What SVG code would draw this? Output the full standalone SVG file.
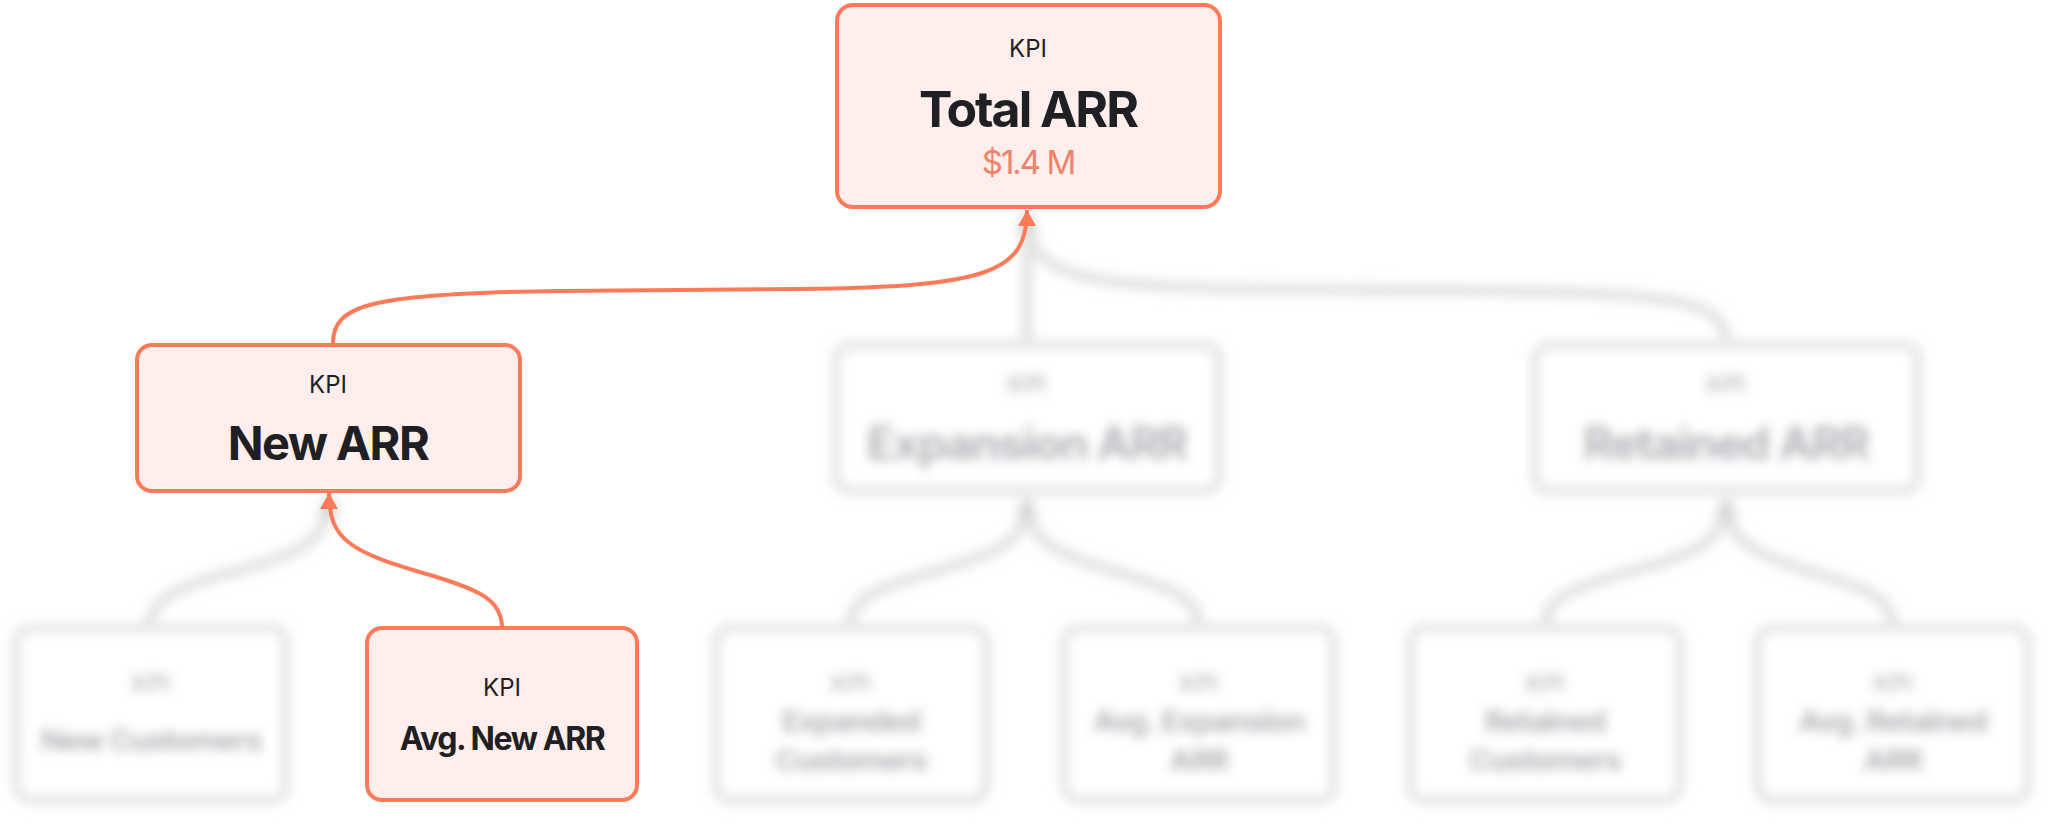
<svg xmlns="http://www.w3.org/2000/svg" width="2048" height="824" viewBox="0 0 2048 824">
<style>
  .box { fill: #FFEEEB; stroke: #FF7A59; stroke-width: 4; }
  .gbox { fill: #FFFFFF; stroke: #E0E0E0; stroke-width: 8; }
  .kpi { font-family: Inter, "Liberation Sans", sans-serif; font-size: 24px; fill: #1F2024; text-anchor: middle; }
  .gkpi { font-family: Inter, "Liberation Sans", sans-serif; font-size: 24px; font-weight: 600; fill: #B4B6BA; text-anchor: middle; }
  .t1 { font-family: Inter, "Liberation Sans", sans-serif; font-weight: 700; fill: #1F2024; text-anchor: middle; }
  .gt { font-family: Inter, "Liberation Sans", sans-serif; font-weight: 700; fill: #ABAEB2; text-anchor: middle; }
  .val { font-family: Inter, "Liberation Sans", sans-serif; font-size: 33px; fill: #F0826A; text-anchor: middle; letter-spacing: -2px; }
  .oc { fill: none; stroke: #FF7A59; stroke-width: 4; }
  .gc { fill: none; stroke: #E2E2E2; stroke-width: 11; }
</style>
<defs>
  <marker id="arrowO" viewBox="0 0 16 18" refX="16" refY="9" markerWidth="16" markerHeight="18" markerUnits="userSpaceOnUse" orient="auto">
    <path d="M0,0 L16,9 L0,18 z" fill="#FF7A59"/>
  </marker>
  <marker id="arrowG" viewBox="0 0 16 18" refX="16" refY="9" markerWidth="22" markerHeight="24" markerUnits="userSpaceOnUse" orient="auto">
    <path d="M0,0 L16,9 L0,18 z" fill="#D4D4D4"/>
  </marker>
  <filter id="blur" x="-20%" y="-20%" width="140%" height="140%">
    <feGaussianBlur stdDeviation="5.5"/>
  </filter>
</defs>
<rect width="2048" height="824" fill="#FFFFFF"/>

<g id="connectors">
  <g filter="url(#blur)">
    <path class="gc" d="M1027,345 L1027,212" marker-end="url(#arrowG)"/>
    <path class="gc" d="M1726,343 C1726,305 1689,293 1500,291 L1260,289 C1064,287 1027,272 1027,212" marker-end="url(#arrowG)"/>
    <path class="gc" d="M150,628 C150,600 172,590 222,575 C308,552 329,540 329,495" marker-end="url(#arrowG)"/>
    <path class="gc" d="M850,628 C850,600 872,590 922,575 C1006,552 1027,540 1027,497" marker-end="url(#arrowG)"/>
    <path class="gc" d="M1199,628 C1199,600 1177,590 1127,575 C1048,552 1027,540 1027,497" marker-end="url(#arrowG)"/>
    <path class="gc" d="M1545,628 C1545,600 1567,590 1617,575 C1705,552 1726,540 1726,497" marker-end="url(#arrowG)"/>
    <path class="gc" d="M1893,628 C1893,600 1871,590 1821,575 C1747,552 1726,540 1726,497" marker-end="url(#arrowG)"/>
  </g>
  <path class="oc" d="M333,343 C333,305 370,293 560,291 L800,289 C990,287 1027,272 1027,210" marker-end="url(#arrowO)"/>
  <path class="oc" d="M502,628 C502,600 480,590 430,575 C350,552 329,540 329,493" marker-end="url(#arrowO)"/>
</g>

<g id="node-expansion-arr" filter="url(#blur)">
  <rect class="gbox" x="836" y="345" width="383" height="146" rx="15"/>
  <text class="gkpi" x="1027" y="393">KPI</text>
  <text class="gt" x="1027" y="460" font-size="46" letter-spacing="-1.5">Expansion ARR</text>
</g>
<g id="node-retained-arr" filter="url(#blur)">
  <rect class="gbox" x="1535" y="345" width="383" height="146" rx="15"/>
  <text class="gkpi" x="1726" y="393">KPI</text>
  <text class="gt" x="1726" y="460" font-size="46" letter-spacing="-1.5">Retained ARR</text>
</g>
<g id="node-new-customers" filter="url(#blur)">
  <rect class="gbox" x="16" y="628" width="270" height="172" rx="15"/>
  <text class="gkpi" x="151" y="692">KPI</text>
  <text class="gt" x="151" y="751" font-size="30" font-weight="600" letter-spacing="-1">New Customers</text>
</g>
<g id="node-expanded-customers" filter="url(#blur)">
  <rect class="gbox" x="716" y="628" width="270" height="172" rx="15"/>
  <text class="gkpi" x="851" y="692">KPI</text>
  <text class="gt" x="851" y="732" font-size="30" font-weight="600" letter-spacing="-1">Expanded</text>
  <text class="gt" x="851" y="771" font-size="30" font-weight="600" letter-spacing="-1">Customers</text>
</g>
<g id="node-avg-expansion-arr" filter="url(#blur)">
  <rect class="gbox" x="1064" y="628" width="270" height="172" rx="15"/>
  <text class="gkpi" x="1199" y="692">KPI</text>
  <text class="gt" x="1199" y="732" font-size="30" font-weight="600" letter-spacing="-1">Avg. Expansion</text>
  <text class="gt" x="1199" y="771" font-size="30" font-weight="600" letter-spacing="-1">ARR</text>
</g>
<g id="node-retained-customers" filter="url(#blur)">
  <rect class="gbox" x="1410" y="628" width="270" height="172" rx="15"/>
  <text class="gkpi" x="1545" y="692">KPI</text>
  <text class="gt" x="1545" y="732" font-size="30" font-weight="600" letter-spacing="-1">Retained</text>
  <text class="gt" x="1545" y="771" font-size="30" font-weight="600" letter-spacing="-1">Customers</text>
</g>
<g id="node-avg-retained-arr" filter="url(#blur)">
  <rect class="gbox" x="1758" y="628" width="270" height="172" rx="15"/>
  <text class="gkpi" x="1893" y="692">KPI</text>
  <text class="gt" x="1893" y="732" font-size="30" font-weight="600" letter-spacing="-1">Avg. Retained</text>
  <text class="gt" x="1893" y="771" font-size="30" font-weight="600" letter-spacing="-1">ARR</text>
</g>

<g id="node-total-arr">
  <rect class="box" x="837" y="5" width="383" height="202" rx="16"/>
  <text class="kpi" x="1028" y="57">KPI</text>
  <text class="t1" x="1028" y="127" font-size="50" letter-spacing="-2">Total ARR</text>
  <text class="val" x="1028" y="174">$1.4 M</text>
</g>
<g id="node-new-arr">
  <rect class="box" x="137" y="345" width="383" height="146" rx="15"/>
  <text class="kpi" x="328" y="393">KPI</text>
  <text class="t1" x="328" y="460" font-size="47" letter-spacing="-1.5">New ARR</text>
</g>
<g id="node-avg-new-arr">
  <rect class="box" x="367" y="628" width="270" height="172" rx="15"/>
  <text class="kpi" x="502" y="696">KPI</text>
  <text class="t1" x="502" y="750" font-size="32" letter-spacing="-1.4">Avg. New ARR</text>
</g>
</svg>
